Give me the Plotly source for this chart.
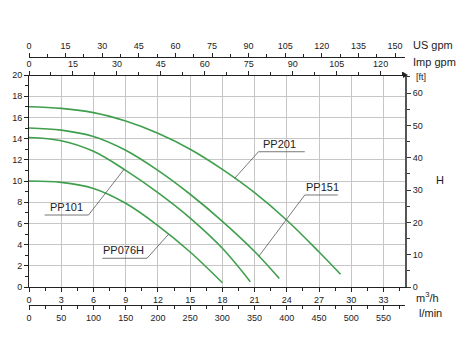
import plotly.graph_objects as go
import numpy as np

# Unit conversions from the base units (m3/h for flow, m for head)
M3H_TO_USGPM = 4.40287
M3H_TO_IMPGPM = 3.66615
M3H_TO_LMIN = 1000.0 / 60.0
M_TO_FT = 3.28084

Q_MAX = 35.0   # m3/h shown on the main flow axis
H_MAX = 20.0   # m shown on the main head axis

# Pump curves: flow (m3/h) and head (m)
pp201_q = [0, 3, 6, 9, 12, 15, 18, 21, 24, 27, 29]
pp201_h = [17.0, 16.85, 16.45, 15.65, 14.5, 13.0, 11.1, 8.9, 6.3, 3.3, 1.2]

pp151_q = [0, 3, 6, 9, 12, 15, 18, 21, 23.3]
pp151_h = [15.0, 14.8, 14.2, 12.9, 11.0, 8.75, 6.2, 3.35, 0.8]

pp101_q = [0, 3, 6, 9, 12, 15, 18, 20.6]
pp101_h = [14.1, 13.8, 12.8, 11.0, 8.9, 6.5, 3.65, 0.5]

pp076h_q = [0, 3, 6, 9, 12, 15, 18]
pp076h_h = [10.0, 9.87, 9.3, 7.9, 5.8, 3.3, 0.4]

# Callouts: (name, flow where the leader touches the curve, elbow flow, elbow head, far end flow, text flow)
callouts = [
    ("PP201", pp201_q, pp201_h, 19.15, 21.36, 12.76, 25.67, 23.3),
    ("PP151", pp151_q, pp151_h, 21.4, 25.67, 8.68, 28.74, 27.3),
    ("PP101", pp101_q, pp101_h, 8.84, 5.54, 6.79, 1.45, 3.45),
    ("PP076H", pp076h_q, pp076h_h, 12.99, 10.99, 2.71, 6.83, 8.8),
]

GREEN = "#3f9f4c"
FONT = "Liberation Sans, Arial, sans-serif"
TICK_FONT = dict(family=FONT, size=9, color="#222222")

# Plot-area geometry in pixels (460x350 canvas)
W, H = 460, 350
ML, MR, MT, MB = 26, 55, 57, 45
PLOT_TOP_PX, PLOT_BOT_PX = 75, 287
paper_h = H - MT - MB
paper_w = W - ML - MR
y_dom = [(H - MB - PLOT_BOT_PX) / paper_h, (H - MB - PLOT_TOP_PX) / paper_h]


def px(x, y):
    """Pixel position -> paper coordinates."""
    return (x - ML) / paper_w, (H - MB - y) / paper_h


fig = go.Figure()

for name, q, h in [("PP201", pp201_q, pp201_h), ("PP151", pp151_q, pp151_h),
                   ("PP101", pp101_q, pp101_h), ("PP076H", pp076h_q, pp076h_h)]:
    fig.add_trace(go.Scatter(x=q, y=h, mode="lines", name=name,
                             line=dict(color=GREEN, width=1.6, shape="spline", smoothing=1.0),
                             hoverinfo="skip", showlegend=False))

annotations = []
for name, q, h, q_on, q_elb, h_elb, q_end, q_txt in callouts:
    h_on = float(np.interp(q_on, q, h))
    fig.add_trace(go.Scatter(x=[q_on, q_elb, q_end], y=[h_on, h_elb, h_elb], mode="lines",
                             line=dict(color="#555555", width=0.8),
                             hoverinfo="skip", showlegend=False))
    annotations.append(dict(x=q_txt, y=h_elb, xref="x", yref="y", text=name,
                            showarrow=False, xanchor="center", yanchor="bottom", yshift=0,
                            font=dict(family=FONT, size=11, color="#222222")))

# Axis captions
for text, (x, y), size, anchor in [
    ("US gpm", (411, 45), 11, "left"),
    ("Imp gpm", (411, 62), 11, "left"),
    ("[ft]", (414, 77), 9, "left"),
    ("H", (440, 180), 11, "center"),
    ("m<sup>3</sup>/h", (414, 297), 11, "left"),
    ("l/min", (417, 313), 11, "left"),
]:
    xp, yp = px(x, y)
    annotations.append(dict(x=xp, y=yp, xref="paper", yref="paper", text=text,
                            showarrow=False, xanchor=anchor, yanchor="middle",
                            font=dict(family=FONT, size=size, color="#222222")))

# Small arrowhead at the right end of the upper flow scale
x0, y0 = px(403, 72)
x1, y1 = px(408, 75)
x2, y2 = px(403, 78)
shapes = [dict(type="path", xref="paper", yref="paper",
               path=f"M {x0} {y0} L {x1} {y1} L {x2} {y2} Z",
               fillcolor="#222222", line=dict(width=0))]

axis_common = dict(showline=True, linecolor="#222222", linewidth=1, ticks="outside",
                   ticklen=4, tickcolor="#222222", tickfont=TICK_FONT, zeroline=False)

fig.update_layout(
    width=W, height=H,
    margin=dict(l=ML, r=MR, t=MT, b=MB),
    paper_bgcolor="white", plot_bgcolor="white",
    font=dict(family=FONT),
    annotations=annotations,
    shapes=shapes,
    xaxis=dict(range=[0, Q_MAX], domain=[0, 1], anchor="y",
               tickvals=list(range(0, 34, 3)),
               showgrid=True, gridcolor="#c6c6c6", gridwidth=1,
               minor=dict(tickvals=[v + 1.5 for v in range(0, 34, 3)], ticklen=3,
                          ticks="outside", tickcolor="#222222", showgrid=False),
               **axis_common),
    xaxis2=dict(range=[0, Q_MAX * M3H_TO_IMPGPM], overlaying="x", anchor="free",
                position=y_dom[1], side="top", tickvals=list(range(0, 121, 15)),
                showgrid=False,
                minor=dict(tickvals=[v + 7.5 for v in range(0, 121, 15)], ticklen=3,
                           ticks="outside", tickcolor="#222222"),
                **axis_common),
    xaxis3=dict(range=[0, Q_MAX * M3H_TO_USGPM], overlaying="x", anchor="free",
                position=1.0, side="top", tickvals=list(range(0, 151, 15)),
                showgrid=False,
                minor=dict(tickvals=[v + 7.5 for v in range(0, 151, 15)], ticklen=3,
                           ticks="outside", tickcolor="#222222"),
                **axis_common),
    xaxis4=dict(range=[0, Q_MAX * M3H_TO_LMIN], overlaying="x", anchor="free",
                position=0.0, side="bottom", tickvals=list(range(0, 551, 50)),
                showgrid=False,
                minor=dict(tickvals=[v + 25 for v in range(0, 551, 50)], ticklen=3,
                           ticks="outside", tickcolor="#222222"),
                **axis_common),
    yaxis=dict(range=[0, H_MAX], domain=y_dom, anchor="x", tickvals=list(range(0, 21, 2)),
               showgrid=True, gridcolor="#c6c6c6", gridwidth=1,
               minor=dict(tickvals=list(range(1, 20, 2)), ticklen=3, ticks="outside",
                          tickcolor="#222222", showgrid=False),
               **axis_common),
    yaxis2=dict(range=[0, H_MAX * M_TO_FT], overlaying="y", anchor="x", side="right",
                tickvals=list(range(0, 61, 10)), showgrid=False,
                showline=True, linecolor="#555555", linewidth=2, ticks="outside",
                ticklen=4, tickcolor="#333333", tickfont=TICK_FONT, zeroline=False,
                minor=dict(tickvals=list(range(5, 66, 10)), ticklen=3, ticks="outside",
                           tickcolor="#333333")),
)

# Empty traces so every extra axis is drawn
for xa_name in ["x2", "x3", "x4"]:
    fig.add_trace(go.Scatter(x=[None], y=[None], xaxis=xa_name, yaxis="y",
                             showlegend=False, hoverinfo="skip"))
fig.add_trace(go.Scatter(x=[None], y=[None], xaxis="x", yaxis="y2",
                         showlegend=False, hoverinfo="skip"))

fig.write_html("out.html")
